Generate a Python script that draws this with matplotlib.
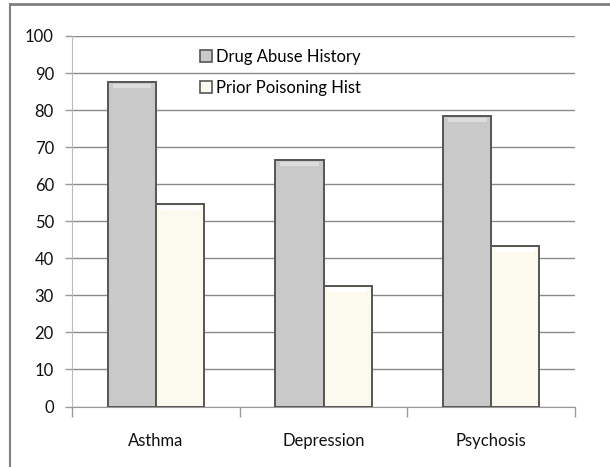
import numpy as np
import matplotlib
matplotlib.use("Agg")
import matplotlib.pyplot as plt
from matplotlib.lines import Line2D

categorias = ["Asthma", "Depression", "Psychosis"]
drug_abuse = [87.5, 66.4, 78.4]
prior_poison = [54.6, 32.4, 43.3]
series_nomes = ["Drug Abuse History", "Prior Poisoning Hist"]

plt.rcParams['font.family'] = ['Lato', 'DejaVu Sans']

fig = plt.figure(figsize=(6.1, 4.67), dpi=100)
ax = fig.add_axes([0.118, 0.1295, 0.825, 0.7935])

x = np.arange(len(categorias))
largura = 0.287
cinza = "#c9c9c9"
creme = "#fcf9ee"

b1 = ax.bar(x - largura/2, drug_abuse, largura, color=cinza, edgecolor="#555555",
            linewidth=1.4, label=series_nomes[0], zorder=3)
b2 = ax.bar(x + largura/2, prior_poison, largura, color=creme, edgecolor="#555555",
            linewidth=1.4, label=series_nomes[1], zorder=3)

# brilho no topo das barras
for barras, cor in ((b1, "#dcdcdc"), (b2, "#ffffff")):
    for r in barras:
        ax.bar(r.get_x() + r.get_width()/2, 1.0, r.get_width()*0.8,
               bottom=r.get_height() - 1.5, color=cor, linewidth=0, zorder=4)

ax.set_xlim(-0.5, 2.5)
ax.set_ylim(0, 100)
ax.set_yticks(np.arange(0, 101, 10))
ax.yaxis.grid(True, color="#8a8a8a", linewidth=1.0, zorder=0)
ax.set_axisbelow(True)

ax.set_xticks(x)
ax.set_xticklabels(categorias)
ax.set_xticks([-0.5, 0.5, 1.5, 2.5], minor=True)
ax.tick_params(axis="x", which="major", length=0, pad=19, labelsize=12, colors="#111111")
ax.tick_params(axis="x", which="minor", length=7, width=1, color="#999999", direction="out")
ax.tick_params(axis="y", length=5, width=1, color="#999999", labelsize=12, pad=8,
               labelcolor="#111111")

for lado in ["top", "right"]:
    ax.spines[lado].set_visible(False)
ax.spines["left"].set_color("#bbbbbb")
ax.spines["bottom"].set_color("#999999")

leg = ax.legend(loc="upper left", bbox_to_anchor=(0.225, 1.005), frameon=False,
                labelspacing=0.9, handlelength=0.7, handleheight=0.7,
                handletextpad=0.25, prop={"size": 12})
for h in leg.legend_handles:
    h.set_linewidth(1.2)

# moldura externa (apenas topo e esquerda)
fig.add_artist(Line2D([10/610, 1], [1 - 4/467, 1 - 4/467], color="#808080", linewidth=2,
                      transform=fig.transFigure))
fig.add_artist(Line2D([10/610, 10/610], [0, 1 - 4/467], color="#808080", linewidth=1.5,
                      transform=fig.transFigure))

plt.savefig("out.png", dpi=100)
